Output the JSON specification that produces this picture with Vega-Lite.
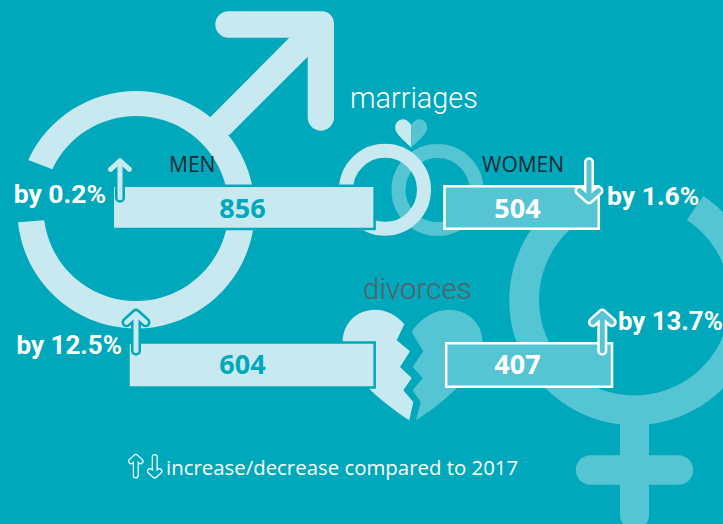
{
"$schema":"https://vega.github.io/schema/vega-lite/v6.json",
"width":723,"height":524,"padding":0,"autosize":{"type":"none"},"background":"#00a8bb",
"config":{"view":{"stroke":null},"text":{"font":"Open Sans"}},
"resolve":{"scale":{"x":"independent","y":"independent"}},
"datasets":{
"figures":[
{"sex":"men","event":"marriages","count":856,"change":"by 0.2%","direction":"up"},
{"sex":"men","event":"divorces","count":604,"change":"by 12.5%","direction":"up"},
{"sex":"women","event":"marriages","count":504,"change":"by 1.6%","direction":"down"},
{"sex":"women","event":"divorces","count":407,"change":"by 13.7%","direction":"up"}],
"icons":[{"icon":"sign"}],
"captions":[{"caption":"marriages"},{"caption":"divorces"},{"caption":"MEN"},{"caption":"WOMEN"},{"caption":"increase/decrease compared to 2017"}]
},
"data":{"name":"figures"},
"layer":[
{"data":{"name":"icons"},"mark":{"type":"point","shape":"M-107.7 -49.3 A118.7 118.7 0 1 1 -118 13 L-91.7 11 A92.5 92.5 0 1 0 -83.7 -40 Z M74.7 -92.6 L153.3 -171.6 H92.5 A13.2 13.2 0 0 1 92.5 -198 H186 A12 12 0 0 1 198 -186 V-91.8 A13.15 13.15 0 0 1 171.7 -91.8 V-152.6 L93.3 -74.3 L71 -72 Z","filled":true,"fill":"#c8e9f0","opacity":1,"size":4},"encoding":{"x":{"datum":136,"type":"quantitative","scale":{"domain":[0,723],"range":[0,723]},"axis":null},"y":{"datum":209.3,"type":"quantitative","scale":{"domain":[0,524],"range":[0,524]},"axis":null}}},
{"data":{"name":"icons"},"mark":{"type":"point","shape":"M68.8 -104 A125 125 0 1 1 -80 -96 L-61 -73.4 A95.5 95.5 0 1 0 52.2 -80 Z M-14.5 120 H14.5 V155.3 H44 A14.7 14.7 0 0 1 44 184.7 H14.5 V215 A14.5 14.5 0 0 1 -14.5 215 V184.7 H-44 A14.7 14.7 0 0 1 -44 155.3 H-14.5 Z","filled":true,"fill":"#55c4d3","opacity":1,"size":4},"encoding":{"x":{"datum":634.5,"type":"quantitative","scale":{"domain":[0,723],"range":[0,723]},"axis":null},"y":{"datum":300,"type":"quantitative","scale":{"domain":[0,524],"range":[0,524]},"axis":null}}},
{"data":{"name":"icons"},"mark":{"type":"point","shape":"circle","filled":false,"stroke":"#55c4d3","strokeWidth":14,"opacity":1,"size":6084},"encoding":{"x":{"datum":437.5,"type":"quantitative","scale":{"domain":[0,723],"range":[0,723]},"axis":null},"y":{"datum":190,"type":"quantitative","scale":{"domain":[0,524],"range":[0,524]},"axis":null}}},
{"data":{"name":"icons"},"mark":{"type":"point","shape":"circle","filled":false,"stroke":"#c8e9f0","strokeWidth":14,"opacity":1,"size":6084},"encoding":{"x":{"datum":385,"type":"quantitative","scale":{"domain":[0,723],"range":[0,723]},"axis":null},"y":{"datum":189.8,"type":"quantitative","scale":{"domain":[0,524],"range":[0,524]},"axis":null}}},
{"data":{"name":"icons"},"mark":{"type":"point","shape":"M0 0 C-2 -3 -5 -5.7 -8 -5.7 C-13 -5.7 -16 -2 -16 3 C-16 8 -9 14 0 22.5 Z","filled":true,"fill":"#c8e9f0","opacity":1,"size":4},"encoding":{"x":{"datum":411.2,"type":"quantitative","scale":{"domain":[0,723],"range":[0,723]},"axis":null},"y":{"datum":125,"type":"quantitative","scale":{"domain":[0,524],"range":[0,524]},"axis":null}}},
{"data":{"name":"icons"},"mark":{"type":"point","shape":"M0 0 C2 -3 5 -5.7 8 -5.7 C13 -5.7 16 -2 16 3 C16 8 9 14 0 22.5 Z","filled":true,"fill":"#55c4d3","opacity":1,"size":4},"encoding":{"x":{"datum":411.2,"type":"quantitative","scale":{"domain":[0,723],"range":[0,723]},"axis":null},"y":{"datum":125,"type":"quantitative","scale":{"domain":[0,524],"range":[0,524]},"axis":null}}},
{"data":{"name":"icons"},"mark":{"type":"point","shape":"M-7.7 -40.7 C-16 -51 -27 -55.3 -37 -55.3 C-56 -55.3 -69.3 -41 -69.3 -23 C-69.3 1 -40 31 -2.7 55.3 L1.3 37 L-8.7 25.3 L-0.3 13 L-12 2 L-2 -13.7 L-15.3 -24.7 Z","filled":true,"fill":"#c8e9f0","opacity":1,"size":4},"encoding":{"x":{"datum":412,"type":"quantitative","scale":{"domain":[0,723],"range":[0,723]},"axis":null},"y":{"datum":365,"type":"quantitative","scale":{"domain":[0,524],"range":[0,524]},"axis":null}}},
{"data":{"name":"icons"},"mark":{"type":"point","shape":"M-0.3 -33 C8 -47 23 -55.3 37 -55.3 C56 -55.3 70.7 -41 70.7 -23 C70.7 -3 46 29 4 55.3 L8.7 37 L0.7 25.3 L10.7 13 L0.7 2 L11.3 -13.7 Z","filled":true,"fill":"#55c4d3","opacity":1,"size":4},"encoding":{"x":{"datum":412,"type":"quantitative","scale":{"domain":[0,723],"range":[0,723]},"axis":null},"y":{"datum":365,"type":"quantitative","scale":{"domain":[0,524],"range":[0,524]},"axis":null}}},

{"transform":[{"filter":"datum.sex==='men'&&datum.event==='marriages'"}],"mark":{"type":"bar","size":43.2,"fill":"#c8e9f0","stroke":"#00a8bb","strokeWidth":2.5},"encoding":{"x":{"field":"count","type":"quantitative","stack":null,"scale":{"domain":[0,856],"range":[374.6,112.8]},"axis":null},"y":{"field":"event","type":"nominal","scale":{"type":"point","padding":0,"domain":["marriages","divorces"],"range":[207.4,365]},"axis":null}}},
{"transform":[{"filter":"datum.sex==='men'&&datum.event==='divorces'"}],"mark":{"type":"bar","size":45,"fill":"#c8e9f0","stroke":"#00a8bb","strokeWidth":2.5},"encoding":{"x":{"field":"count","type":"quantitative","stack":null,"scale":{"domain":[0,604],"range":[374.7,128.5]},"axis":null},"y":{"field":"event","type":"nominal","scale":{"type":"point","padding":0,"domain":["marriages","divorces"],"range":[207.4,365]},"axis":null}}},
{"transform":[{"filter":"datum.sex==='women'&&datum.event==='marriages'"}],"mark":{"type":"bar","size":42.6,"fill":"#55c4d3","stroke":"#ffffff","strokeWidth":2.5},"encoding":{"x":{"field":"count","type":"quantitative","stack":null,"scale":{"domain":[0,504],"range":[444.5,598.8]},"axis":null},"y":{"field":"event","type":"nominal","scale":{"type":"point","padding":0,"domain":["marriages","divorces"],"range":[207.5,365]},"axis":null}}},
{"transform":[{"filter":"datum.sex==='women'&&datum.event==='divorces'"}],"mark":{"type":"bar","size":43.6,"fill":"#55c4d3","stroke":"#ffffff","strokeWidth":2.5},"encoding":{"x":{"field":"count","type":"quantitative","stack":null,"scale":{"domain":[0,407],"range":[446.2,612]},"axis":null},"y":{"field":"event","type":"nominal","scale":{"type":"point","padding":0,"domain":["marriages","divorces"],"range":[207.5,365]},"axis":null}}},

{"transform":[{"filter":"datum.sex==='men'"}],"mark":{"type":"text","fontSize":27,"fontWeight":700,"color":"#00a8bb","baseline":"middle"},"encoding":{"x":{"field":"sex","type":"nominal","scale":{"type":"point","padding":0,"domain":["men","women"],"range":[242.5,517.5]},"axis":null},"y":{"field":"event","type":"nominal","scale":{"type":"point","padding":0,"domain":["marriages","divorces"],"range":[209.5,366]},"axis":null},"text":{"field":"count","type":"quantitative"}}},
{"transform":[{"filter":"datum.sex==='women'"}],"mark":{"type":"text","fontSize":27,"fontWeight":700,"color":"#ffffff","baseline":"middle"},"encoding":{"x":{"field":"sex","type":"nominal","scale":{"type":"point","padding":0,"domain":["men","women"],"range":[242.5,517.5]},"axis":null},"y":{"field":"event","type":"nominal","scale":{"type":"point","padding":0,"domain":["marriages","divorces"],"range":[209.5,366]},"axis":null},"text":{"field":"count","type":"quantitative"}}},

{"transform":[{"filter":"datum.sex==='men'&&datum.event==='marriages'"}],"mark":{"type":"point","shape":"M-9.5 -10 L0 -18.5 L9.5 -10 M0 -18.5 V18.5","filled":false,"stroke":"#00a8bb","strokeWidth":10,"strokeCap":"round","strokeJoin":"round","opacity":1,"size":4},"encoding":{"x":{"datum":120,"type":"quantitative","scale":{"domain":[0,723],"range":[0,723]},"axis":null},"y":{"datum":179.3,"type":"quantitative","scale":{"domain":[0,524],"range":[0,524]},"axis":null}}},
{"transform":[{"filter":"datum.sex==='men'&&datum.event==='marriages'"}],"mark":{"type":"point","shape":"M-9.5 -10 L0 -18.5 L9.5 -10 M0 -18.5 V18.5","filled":false,"stroke":"#c8e9f0","strokeWidth":5,"strokeCap":"round","strokeJoin":"round","opacity":1,"size":4},"encoding":{"x":{"datum":120,"type":"quantitative","scale":{"domain":[0,723],"range":[0,723]},"axis":null},"y":{"datum":179.3,"type":"quantitative","scale":{"domain":[0,524],"range":[0,524]},"axis":null}}},
{"transform":[{"filter":"datum.sex==='men'&&datum.event==='divorces'"}],"mark":{"type":"point","shape":"M-9.5 -10 L0 -18.5 L9.5 -10 M0 -18.5 V18.5","filled":false,"stroke":"#00a8bb","strokeWidth":10,"strokeCap":"round","strokeJoin":"round","opacity":1,"size":4},"encoding":{"x":{"datum":136,"type":"quantitative","scale":{"domain":[0,723],"range":[0,723]},"axis":null},"y":{"datum":332.3,"type":"quantitative","scale":{"domain":[0,524],"range":[0,524]},"axis":null}}},
{"transform":[{"filter":"datum.sex==='men'&&datum.event==='divorces'"}],"mark":{"type":"point","shape":"M-9.5 -10 L0 -18.5 L9.5 -10 M0 -18.5 V18.5","filled":false,"stroke":"#c8e9f0","strokeWidth":5,"strokeCap":"round","strokeJoin":"round","opacity":1,"size":4},"encoding":{"x":{"datum":136,"type":"quantitative","scale":{"domain":[0,723],"range":[0,723]},"axis":null},"y":{"datum":332.3,"type":"quantitative","scale":{"domain":[0,524],"range":[0,524]},"axis":null}}},
{"transform":[{"filter":"datum.sex==='women'&&datum.event==='marriages'"}],"mark":{"type":"point","shape":"M-9.5 10 L0 18.5 L9.5 10 M0 18.5 V-18.5","filled":false,"stroke":"#ffffff","strokeWidth":10,"strokeCap":"round","strokeJoin":"round","opacity":1,"size":4},"encoding":{"x":{"datum":589,"type":"quantitative","scale":{"domain":[0,723],"range":[0,723]},"axis":null},"y":{"datum":180.7,"type":"quantitative","scale":{"domain":[0,524],"range":[0,524]},"axis":null}}},
{"transform":[{"filter":"datum.sex==='women'&&datum.event==='marriages'"}],"mark":{"type":"point","shape":"M-9.5 10 L0 18.5 L9.5 10 M0 18.5 V-18.5","filled":false,"stroke":"#55c4d3","strokeWidth":5,"strokeCap":"round","strokeJoin":"round","opacity":1,"size":4},"encoding":{"x":{"datum":589,"type":"quantitative","scale":{"domain":[0,723],"range":[0,723]},"axis":null},"y":{"datum":180.7,"type":"quantitative","scale":{"domain":[0,524],"range":[0,524]},"axis":null}}},
{"transform":[{"filter":"datum.sex==='women'&&datum.event==='divorces'"}],"mark":{"type":"point","shape":"M-9.5 -10 L0 -18.5 L9.5 -10 M0 -18.5 V18.5","filled":false,"stroke":"#ffffff","strokeWidth":10,"strokeCap":"round","strokeJoin":"round","opacity":1,"size":4},"encoding":{"x":{"datum":602.3,"type":"quantitative","scale":{"domain":[0,723],"range":[0,723]},"axis":null},"y":{"datum":332.2,"type":"quantitative","scale":{"domain":[0,524],"range":[0,524]},"axis":null}}},
{"transform":[{"filter":"datum.sex==='women'&&datum.event==='divorces'"}],"mark":{"type":"point","shape":"M-9.5 -10 L0 -18.5 L9.5 -10 M0 -18.5 V18.5","filled":false,"stroke":"#55c4d3","strokeWidth":5,"strokeCap":"round","strokeJoin":"round","opacity":1,"size":4},"encoding":{"x":{"datum":602.3,"type":"quantitative","scale":{"domain":[0,723],"range":[0,723]},"axis":null},"y":{"datum":332.2,"type":"quantitative","scale":{"domain":[0,524],"range":[0,524]},"axis":null}}},
{"data":{"name":"icons"},"mark":{"type":"point","shape":"M-9.5 -10 L0 -18.5 L9.5 -10 M0 -18.5 V18.5","filled":false,"stroke":"#ffffff","strokeWidth":6,"strokeCap":"round","strokeJoin":"round","opacity":1,"size":1},"encoding":{"x":{"datum":135.8,"type":"quantitative","scale":{"domain":[0,723],"range":[0,723]},"axis":null},"y":{"datum":466.2,"type":"quantitative","scale":{"domain":[0,524],"range":[0,524]},"axis":null}}},
{"data":{"name":"icons"},"mark":{"type":"point","shape":"M-9.5 -10 L0 -18.5 L9.5 -10 M0 -18.5 V18.5","filled":false,"stroke":"#00a8bb","strokeWidth":3.6,"strokeCap":"round","strokeJoin":"round","opacity":1,"size":1},"encoding":{"x":{"datum":135.8,"type":"quantitative","scale":{"domain":[0,723],"range":[0,723]},"axis":null},"y":{"datum":466.2,"type":"quantitative","scale":{"domain":[0,524],"range":[0,524]},"axis":null}}},
{"data":{"name":"icons"},"mark":{"type":"point","shape":"M-9.5 10 L0 18.5 L9.5 10 M0 18.5 V-18.5","filled":false,"stroke":"#ffffff","strokeWidth":6,"strokeCap":"round","strokeJoin":"round","opacity":1,"size":1},"encoding":{"x":{"datum":154.7,"type":"quantitative","scale":{"domain":[0,723],"range":[0,723]},"axis":null},"y":{"datum":466.2,"type":"quantitative","scale":{"domain":[0,524],"range":[0,524]},"axis":null}}},
{"data":{"name":"icons"},"mark":{"type":"point","shape":"M-9.5 10 L0 18.5 L9.5 10 M0 18.5 V-18.5","filled":false,"stroke":"#00a8bb","strokeWidth":3.6,"strokeCap":"round","strokeJoin":"round","opacity":1,"size":1},"encoding":{"x":{"datum":154.7,"type":"quantitative","scale":{"domain":[0,723],"range":[0,723]},"axis":null},"y":{"datum":466.2,"type":"quantitative","scale":{"domain":[0,524],"range":[0,524]},"axis":null}}},

{"transform":[{"filter":"datum.sex==='men'&&datum.event==='marriages'"}],"mark":{"type":"text","font":"Roboto","fontSize":26.5,"fontWeight":700,"color":"#ffffff","align":"right","baseline":"alphabetic"},"encoding":{"x":{"datum":106,"type":"quantitative","scale":{"domain":[0,723],"range":[0,723]},"axis":null},"y":{"datum":203,"type":"quantitative","scale":{"domain":[0,524],"range":[0,524]},"axis":null},"text":{"field":"change","type":"nominal"}}},
{"transform":[{"filter":"datum.sex==='men'&&datum.event==='divorces'"}],"mark":{"type":"text","font":"Roboto","fontSize":26,"fontWeight":700,"color":"#ffffff","align":"right","baseline":"alphabetic"},"encoding":{"x":{"datum":122,"type":"quantitative","scale":{"domain":[0,723],"range":[0,723]},"axis":null},"y":{"datum":354,"type":"quantitative","scale":{"domain":[0,524],"range":[0,524]},"axis":null},"text":{"field":"change","type":"nominal"}}},
{"transform":[{"filter":"datum.sex==='women'&&datum.event==='marriages'"}],"mark":{"type":"text","font":"Roboto","fontSize":26.5,"fontWeight":700,"color":"#ffffff","align":"left","baseline":"alphabetic"},"encoding":{"x":{"datum":607,"type":"quantitative","scale":{"domain":[0,723],"range":[0,723]},"axis":null},"y":{"datum":205,"type":"quantitative","scale":{"domain":[0,524],"range":[0,524]},"axis":null},"text":{"field":"change","type":"nominal"}}},
{"transform":[{"filter":"datum.sex==='women'&&datum.event==='divorces'"}],"mark":{"type":"text","font":"Roboto","fontSize":25.8,"fontWeight":700,"color":"#ffffff","align":"left","baseline":"alphabetic"},"encoding":{"x":{"datum":618,"type":"quantitative","scale":{"domain":[0,723],"range":[0,723]},"axis":null},"y":{"datum":330,"type":"quantitative","scale":{"domain":[0,524],"range":[0,524]},"axis":null},"text":{"field":"change","type":"nominal"}}},

{"data":{"name":"captions"},"transform":[{"filter":"datum.caption==='marriages'"}],"mark":{"type":"text","font":"Roboto","fontSize":28.8,"fontWeight":300,"color":"#ffffff","align":"left","baseline":"alphabetic"},"encoding":{"x":{"datum":350,"type":"quantitative","scale":{"domain":[0,723],"range":[0,723]},"axis":null},"y":{"datum":108,"type":"quantitative","scale":{"domain":[0,524],"range":[0,524]},"axis":null},"text":{"field":"caption","type":"nominal"}}},
{"data":{"name":"captions"},"transform":[{"filter":"datum.caption==='divorces'"}],"mark":{"type":"text","font":"Roboto","fontSize":29.5,"fontWeight":300,"color":"#5a6068","align":"left","baseline":"alphabetic"},"encoding":{"x":{"datum":363,"type":"quantitative","scale":{"domain":[0,723],"range":[0,723]},"axis":null},"y":{"datum":299,"type":"quantitative","scale":{"domain":[0,524],"range":[0,524]},"axis":null},"text":{"field":"caption","type":"nominal"}}},
{"data":{"name":"captions"},"transform":[{"filter":"datum.caption==='MEN'"}],"mark":{"type":"text","fontSize":21,"color":"#1f2a33","align":"left","baseline":"alphabetic"},"encoding":{"x":{"datum":169,"type":"quantitative","scale":{"domain":[0,723],"range":[0,723]},"axis":null},"y":{"datum":172,"type":"quantitative","scale":{"domain":[0,524],"range":[0,524]},"axis":null},"text":{"field":"caption","type":"nominal"}}},
{"data":{"name":"captions"},"transform":[{"filter":"datum.caption==='WOMEN'"}],"mark":{"type":"text","fontSize":21,"color":"#1f2a33","align":"left","baseline":"alphabetic"},"encoding":{"x":{"datum":482,"type":"quantitative","scale":{"domain":[0,723],"range":[0,723]},"axis":null},"y":{"datum":172,"type":"quantitative","scale":{"domain":[0,524],"range":[0,524]},"axis":null},"text":{"field":"caption","type":"nominal"}}},
{"data":{"name":"captions"},"transform":[{"filter":"datum.caption==='increase/decrease compared to 2017'"}],"mark":{"type":"text","fontSize":20.4,"fontWeight":400,"color":"#ffffff","align":"left","baseline":"alphabetic"},"encoding":{"x":{"datum":166,"type":"quantitative","scale":{"domain":[0,723],"range":[0,723]},"axis":null},"y":{"datum":475,"type":"quantitative","scale":{"domain":[0,524],"range":[0,524]},"axis":null},"text":{"field":"caption","type":"nominal"}}}
]
}
